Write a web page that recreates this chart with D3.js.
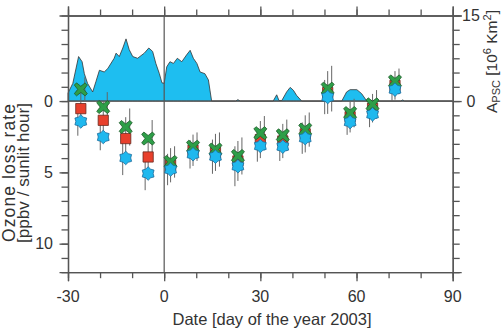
<!DOCTYPE html>
<html>
<head>
<meta charset="utf-8">
<script src="https://cdn.jsdelivr.net/npm/d3@7"></script>
<style>
  body { margin: 0; background: #fff; }
  text { font-family: "Liberation Sans", Arial, sans-serif; fill: #333; }
</style>
</head>
<body>
<div id="chart"></div>
<script>
// A_PSC area (10^6 km^2) vs day of year
const pscDay = [-30, -28.5, -26.7, -25.6, -24.9, -23.9, -22.3, -21.3, -20.2, -18.7, -17.6, -15.6, -15, -14,
  -12.9, -11.9, -10.9, -9.8, -8.3, -6.2, -4.8, -3.6, -2.6, -1.5, -0.7, 0, 0.8, 1.8, 2.9, 4.1, 5.5, 7,
  8.1, 9.1, 10.2, 11.2, 12.7, 13.8, 14.8, 22.3, 23, 23.7, 34, 35.1, 35.8, 36.7, 38.2, 39.3, 40.3, 41.3,
  42.9, 55.4, 56.9, 58, 60.1, 61.6, 63.2, 73.8, 74.4, 75, 90];
const pscArea = [1.4, 3.1, 7.8, 6.9, 4.8, 3.1, 1.6, 3.4, 5.4, 5.1, 5.7, 7.5, 8.4, 7.8,
  9.3, 10.9, 9.0, 7.8, 7.5, 8.4, 9.3, 8.7, 6.6, 4.8, 3.2, 3.1, 6.0, 6.9, 6.6, 7.5, 6.9, 8.1,
  8.9, 7.5, 6.6, 5.1, 4.8, 3.7, 0, 0, 0.25, 0, 0, 1.1, 0.1, 0.1, 1.6, 2.4, 1.9, 1.0,
  0, 0, 1.6, 2.0, 2.0, 1.3, 0, 0, 0.2, 0, 0];

// ozone loss rates (ppbv / sunlit hour), three estimates
const days = [-26, -19, -12, -5, 2, 9, 16, 23, 30, 37, 44, 51, 58, 65, 72];
const crossRate  = [-0.82, 0.42, 1.82, 2.63, 4.27, 3.2, 3.4, 3.85, 2.25, 2.4, 2.0, -0.87, 0.84, 0.23, -1.38];
const squareRate = [0.53, 1.35, 2.63, 3.92, 4.5, 3.45, 3.6, 4.2, 2.7, 2.8, 2.3, -0.6, 1.1, 0.5, -1.1];
const starRate   = [1.43, 2.52, 3.99, 5.08, 4.8, 3.73, 3.9, 4.57, 3.15, 3.2, 2.6, -0.28, 1.47, 0.93, -0.8];
const crossErr   = [0.85, 1.05, 1.3, 1.3, 1.1, 1.0, 1.2, 1.3, 1.2, 1.1, 1.2, 1.6, 1.0, 1.0, 0.9];
const squareErr  = [1.2, 1.3, 1.5, 1.5, 1.2, 1.1, 1.3, 1.4, 1.3, 1.2, 1.3, 1.5, 1.1, 1.0, 1.0];
const starErr    = [1.0, 0.93, 1.2, 1.17, 1.1, 1.0, 1.2, 1.4, 1.1, 1.0, 1.1, 1.2, 0.9, 0.9, 0.8];

const xTicks = [-30, 0, 30, 60, 90];
const leftTicks = [0, 5, 10];
const rightTicks = [15, 0];

const width = 504, height = 329;
const svg = d3.select("#chart").append("svg")
  .attr("width", width)
  .attr("height", height);

const x = d3.scaleLinear().domain([-30, 90]).range([68, 452.7]);
const yL = d3.scaleLinear().domain([-6, 12]).range([15.5, 272.2]);
const yR = d3.scaleLinear().domain([15, -30]).range([15.5, 272.2]);

const axisColor = "#555";

// PSC area
const area = d3.area()
  .x((d, i) => x(pscDay[i]))
  .y0(yR(0))
  .y1((d, i) => yR(pscArea[i]));

svg.append("path")
  .datum(pscArea)
  .attr("d", area)
  .attr("fill", "#1ebef0")
  .attr("stroke", "#333")
  .attr("stroke-width", 0.8);

// zero lines
svg.append("line")
  .attr("x1", x(-30)).attr("x2", x(90))
  .attr("y1", yL(0)).attr("y2", yL(0))
  .attr("stroke", axisColor).attr("stroke-width", 1.2);
svg.append("line")
  .attr("x1", x(0)).attr("x2", x(0))
  .attr("y1", yL(-6)).attr("y2", yL(12))
  .attr("stroke", axisColor).attr("stroke-width", 1.2);

// axes
function styleAxis(g) {
  g.selectAll("path, line").attr("stroke", axisColor).attr("stroke-width", 1.3);
  g.selectAll("text").remove();
}
const xMinor = d3.range(-30, 91, 10);
svg.append("g").attr("transform", `translate(0,${yL(12)})`)
  .call(d3.axisBottom(x).tickValues(xMinor).tickSizeInner(6).tickSizeOuter(0)).call(styleAxis);
svg.append("g").attr("transform", `translate(0,${yL(12)})`)
  .call(d3.axisBottom(x).tickValues(xTicks).tickSize(9)).call(styleAxis);
svg.append("g").attr("transform", `translate(0,${yL(-6)})`)
  .call(d3.axisTop(x).tickValues(xMinor).tickSizeInner(6).tickSizeOuter(0)).call(styleAxis);
svg.append("g").attr("transform", `translate(0,${yL(-6)})`)
  .call(d3.axisTop(x).tickValues(xTicks).tickSize(9)).call(styleAxis);

svg.append("g").attr("transform", `translate(${x(-30)},0)`)
  .call(d3.axisLeft(yL).tickValues(d3.range(-6, 13, 1)).tickSizeInner(6.5).tickSizeOuter(0)).call(styleAxis);
svg.append("g").attr("transform", `translate(${x(-30)},0)`)
  .call(d3.axisLeft(yL).tickValues(leftTicks).tickSize(8.5)).call(styleAxis);
svg.append("g").attr("transform", `translate(${x(90)},0)`)
  .call(d3.axisRight(yR).tickValues(d3.range(-30, 15.1, 2.5)).tickSizeInner(7).tickSizeOuter(0)).call(styleAxis);
svg.append("g").attr("transform", `translate(${x(90)},0)`)
  .call(d3.axisRight(yR).tickValues(rightTicks).tickSize(9)).call(styleAxis);

// tick labels
svg.selectAll(".xl").data(xTicks).join("text")
  .attr("x", d => x(d)).attr("y", 302)
  .attr("text-anchor", "middle").attr("font-size", 16)
  .text(d => d);
svg.selectAll(".yl").data(leftTicks).join("text")
  .attr("x", 53).attr("y", d => yL(d)).attr("dy", "0.36em")
  .attr("text-anchor", "end").attr("font-size", 16)
  .text(d => d);
svg.selectAll(".yr").data(rightTicks).join("text")
  .attr("x", 471).attr("y", d => yR(d)).attr("dy", "0.36em")
  .attr("text-anchor", "middle").attr("font-size", 16)
  .text(d => d);

// axis titles
svg.append("text")
  .attr("x", 272).attr("y", 325)
  .attr("text-anchor", "middle").attr("font-size", 16.5)
  .text("Date [day of the year 2003]");

const lt = svg.append("g").attr("transform", "translate(0,173) rotate(-90)");
lt.append("text").attr("x", 0).attr("y", 15)
  .attr("text-anchor", "middle").attr("font-size", 17.5)
  .attr("textLength", 138).attr("lengthAdjust", "spacing")
  .text("Ozone loss rate");
lt.append("text").attr("x", 0).attr("y", 29)
  .attr("text-anchor", "middle").attr("font-size", 17)
  .attr("textLength", 140).attr("lengthAdjust", "spacing")
  .text("[ppbv / sunlit hour]");

const rt = svg.append("text")
  .attr("transform", "translate(497,113) rotate(-90)")
  .attr("font-size", 15.5);
rt.append("tspan").text("A");
rt.append("tspan").attr("font-size", 11).attr("dy", 3).text("PSC");
rt.append("tspan").attr("dy", -3).text(" [10");
rt.append("tspan").attr("font-size", 11).attr("dy", -6).text("6");
rt.append("tspan").attr("dy", 6).text(" Km");
rt.append("tspan").attr("font-size", 11).attr("dy", -6).text("2");
rt.append("tspan").attr("dy", 6).text("]");

// error bars
const series = [
  { vals: squareRate, err: squareErr, dx: 0 },
  { vals: crossRate, err: crossErr, dx: 4 },
  { vals: starRate, err: starErr, dx: -3 }
];
series.forEach(s => {
  svg.append("g").selectAll("line").data(days).join("line")
    .attr("x1", (d, i) => x(d) + s.dx).attr("x2", (d, i) => x(d) + s.dx)
    .attr("y1", (d, i) => yL(s.vals[i] - s.err[i]))
    .attr("y2", (d, i) => yL(s.vals[i] + s.err[i]))
    .attr("stroke", "#666").attr("stroke-width", 1);
});

// marker shapes
const xShape = {
  draw(ctx) {
    const a = 6.5, t = 2.2;
    const pts = [[0, -t * 1.41], [a - t, -a], [a, -a + t], [t * 1.41, 0], [a, a - t], [a - t, a],
      [0, t * 1.41], [-a + t, a], [-a, a - t], [-t * 1.41, 0], [-a, -a + t], [-a + t, -a]];
    ctx.moveTo(pts[0][0], pts[0][1]);
    pts.slice(1).forEach(p => ctx.lineTo(p[0], p[1]));
    ctx.closePath();
  }
};
const starShape = {
  draw(ctx) {
    const ro = 6.8, ri = 5.0;
    for (let k = 0; k < 12; k++) {
      const r = k % 2 ? ri : ro;
      const ang = Math.PI / 6 * k - Math.PI / 2;
      const px = r * Math.cos(ang), py = r * Math.sin(ang);
      if (k === 0) ctx.moveTo(px, py); else ctx.lineTo(px, py);
    }
    ctx.closePath();
  }
};

svg.append("g").selectAll("path").data(days).join("path")
  .attr("d", d3.symbol().type(d3.symbolSquare).size(105))
  .attr("transform", (d, i) => `translate(${x(d)},${yL(squareRate[i])})`)
  .attr("fill", "#e8402c").attr("stroke", "#6a2a20").attr("stroke-width", 0.8);

svg.append("g").selectAll("path").data(days).join("path")
  .attr("d", d3.symbol().type(xShape))
  .attr("transform", (d, i) => `translate(${x(d)},${yL(crossRate[i])})`)
  .attr("fill", "#2e9e48").attr("stroke", "#1e5a2a").attr("stroke-width", 0.8);

svg.append("g").selectAll("path").data(days).join("path")
  .attr("d", d3.symbol().type(starShape))
  .attr("transform", (d, i) => `translate(${x(d)},${yL(starRate[i])})`)
  .attr("fill", "#1fb8ee").attr("stroke", "#1a6a9a").attr("stroke-width", 0.8);
</script>
</body>
</html>
